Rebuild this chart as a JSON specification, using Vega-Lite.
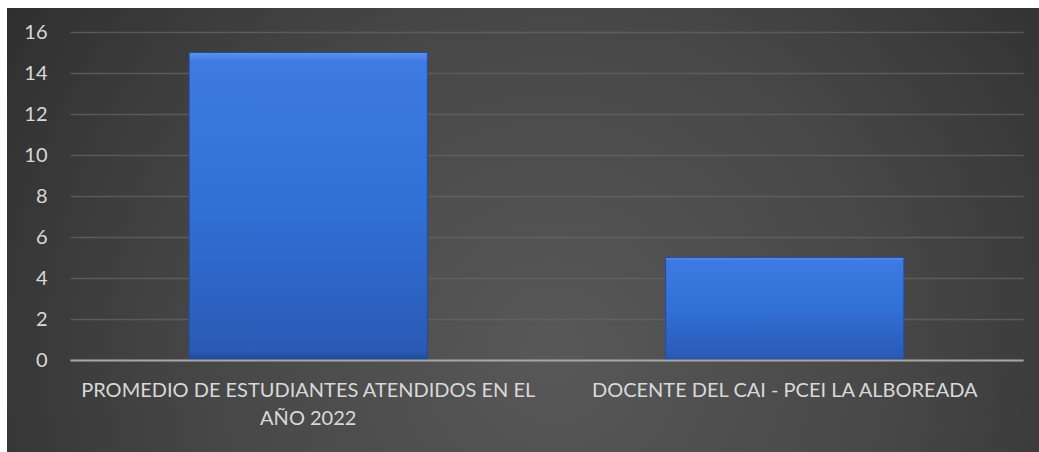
{
  "$schema": "https://vega.github.io/schema/vega-lite/v6.json",
  "autosize": {"type": "none"},
  "padding": {"left": 7, "top": 8, "right": 0, "bottom": 0},
  "width": 1032,
  "height": 444,
  "background": "#ffffff",
  "config": {
    "view": {
      "stroke": null,
      "fill": {
        "gradient": "radial",
        "x1": 0.53, "y1": 0.62, "r1": 0,
        "x2": 0.53, "y2": 0.62, "r2": 0.74,
        "stops": [
          {"offset": 0, "color": "#585858"},
          {"offset": 0.45, "color": "#474747"},
          {"offset": 1, "color": "#262626"}
        ]
      }
    }
  },
  "data": {
    "values": [
      {"categoria": "PROMEDIO DE ESTUDIANTES ATENDIDOS EN EL AÑO 2022", "valor": 15},
      {"categoria": "DOCENTE DEL CAI - PCEI LA ALBOREADA", "valor": 5}
    ]
  },
  "mark": {
    "type": "bar",
    "stroke": "#234c9c",
    "strokeWidth": 1,
    "fill": {
      "gradient": "linear",
      "x1": 0, "y1": 0, "x2": 0, "y2": 1,
      "stops": [
        {"offset": 0, "color": "#5b93ee"},
        {"offset": 0.03, "color": "#3d7be2"},
        {"offset": 0.5, "color": "#3170d6"},
        {"offset": 0.97, "color": "#2a5bb6"},
        {"offset": 1, "color": "#1f4892"}
      ]
    }
  },
  "encoding": {
    "x": {
      "field": "categoria",
      "type": "nominal",
      "sort": null,
      "scale": {"paddingInner": 0.5, "paddingOuter": 0.25, "range": [63, 1016]},
      "axis": {
        "title": null,
        "offset": -92,
        "labelAngle": 0,
        "labelFont": "Lato",
        "labelFontSize": 20,
        "labelColor": "#d9d9d9",
        "labelPadding": 20,
        "labelLineHeight": 28,
        "labelLimit": 0,
        "labelExpr": "datum.label == 'PROMEDIO DE ESTUDIANTES ATENDIDOS EN EL AÑO 2022' ? ['PROMEDIO DE ESTUDIANTES ATENDIDOS EN EL', 'AÑO 2022'] : datum.label",
        "ticks": false,
        "domain": true,
        "domainColor": "#a6a6a6",
        "domainWidth": 2,
        "zindex": 1
      }
    },
    "y": {
      "field": "valor",
      "type": "quantitative",
      "scale": {"domain": [0, 16], "range": [352, 24]},
      "axis": {
        "title": null,
        "offset": -63,
        "values": [0, 2, 4, 6, 8, 10, 12, 14, 16],
        "labelFont": "Lato",
        "labelFontSize": 20,
        "labelColor": "#d9d9d9",
        "labelPadding": 23,
        "ticks": false,
        "domain": false,
        "grid": true,
        "gridColor": "#666666",
        "gridOpacity": 0.7,
        "gridWidth": 1.5
      }
    }
  }
}
